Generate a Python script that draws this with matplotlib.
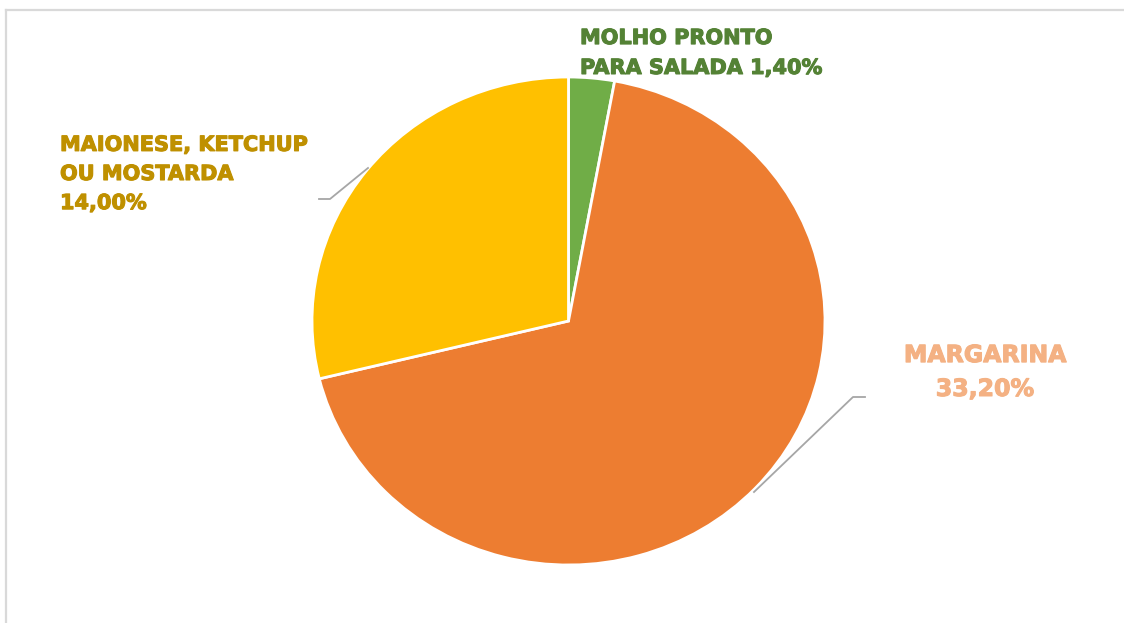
import matplotlib.pyplot as plt
import matplotlib.patheffects as pe
from matplotlib.lines import Line2D

# condiment share (%)
categories = ["MOLHO PRONTO\nPARA SALADA", "MARGARINA", "MAIONESE, KETCHUP\nOU MOSTARDA"]
values = [1.40, 33.20, 14.00]
slice_colors = ["#70AD47", "#ED7D31", "#FFC000"]
text_colors = ["#548235", "#F4B183", "#BF9000"]

W, H = 1124, 623
fig = plt.figure(figsize=(W / 100, H / 100), dpi=100)
fig.patch.set_facecolor("white")

# pie box in pixels (left, top, right, bottom) - slightly stretched horizontally
px0, py0, px1, py1 = 312, 77, 825, 565
ax = fig.add_axes([px0 / W, 1 - py1 / H, (px1 - px0) / W, (py1 - py0) / H])
ax.pie(values, colors=slice_colors, startangle=90, counterclock=False,
       wedgeprops=dict(edgecolor="white", linewidth=2))
ax.set_aspect("auto")
ax.set_xlim(-1, 1)
ax.set_ylim(-1, 1)
ax.axis("off")


def fx(x):
    return x / W


def fy(y):
    return 1 - y / H


def pct(v):
    return f"{v:.2f}".replace(".", ",") + "%"


def label(x, y, s, color, size, ha, ls):
    t = fig.text(fx(x), fy(y), s, color=color, ha=ha, va="center", linespacing=ls,
                 family=["DejaVu Sans"], fontweight="bold", fontsize=size)
    # a thin stroke in the same colour to make the bold heavier
    t.set_path_effects([pe.withStroke(linewidth=0.8, foreground=color)])


line1, line2 = categories[0].split("\n")
label(580, 53, line1 + "\n" + line2 + " " + pct(values[0]), text_colors[0], 15, "left", 1.62)
label(985, 372, categories[1] + "\n" + pct(values[1]), text_colors[1], 17, "center", 1.52)
label(60, 174, categories[2] + "\n" + pct(values[2]), text_colors[2], 15, "left", 1.57)

# leader lines
lc = "#A6A6A6"
fig.add_artist(Line2D([fx(319), fx(330), fx(368)], [fy(199), fy(199), fy(168)],
                      color=lc, lw=1.3))
fig.add_artist(Line2D([fx(865), fx(853), fx(754)], [fy(397), fy(397), fy(492)],
                      color=lc, lw=1.3))

# chart frame (top and left edges)
fig.add_artist(Line2D([fx(6), fx(W)], [fy(10), fy(10)], color="#D9D9D9", lw=1.6))
fig.add_artist(Line2D([fx(6), fx(6)], [fy(10), fy(H)], color="#D9D9D9", lw=1.6))

fig.savefig("out.png", dpi=100)
